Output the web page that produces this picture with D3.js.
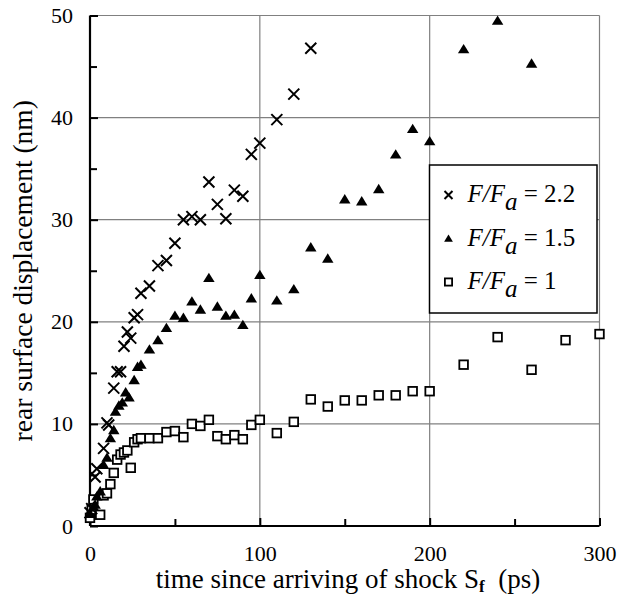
<!DOCTYPE html>
<html>
<head>
<meta charset="utf-8">
<script src="https://cdn.jsdelivr.net/npm/d3@7"></script>
<style>
	body { margin: 0; background: #fff; }
	text { font-family: "Liberation Serif", "Times New Roman", serif; fill: #000; }
</style>
</head>
<body>
<div id="chart"></div>
<script>

///////////////////////////////////////////////////////////////////////////
/////////////////////////////////// Data //////////////////////////////////
///////////////////////////////////////////////////////////////////////////

//F/Fa = 2.2 (crosses): [time ps, displacement nm]
var cross22 = [[0,1.3],[1,1.7],[3,4.8],[4,5.6],[8,7.6],[10,10.1],[11,9.9],[14,13.5],[16,15.1],[18,15.1],
	[20,17.6],[22,19.0],[24,18.4],[26,20.4],[28,20.7],[30,22.8],[35,23.5],[40,25.5],[45,26.0],[50,27.7],
	[55,30.0],[60,30.3],[65,30.0],[70,33.7],[75,31.5],[80,30.1],[85,32.9],[90,32.3],[95,36.4],[100,37.5],
	[110,39.8],[120,42.3],[130,46.8]];

//F/Fa = 1.5 (triangles)
var tri15 = [[0,1.2],[2,1.9],[3,2.1],[4,2.9],[6,3.4],[8,6.0],[10,6.7],[12,8.6],[14,9.4],[15,11.2],[17,11.8],
	[19,12.1],[21,13.1],[23,12.6],[26,14.3],[28,15.6],[30,15.8],[35,17.3],[40,18.2],[45,19.4],[50,20.6],
	[55,20.4],[60,22.0],[65,21.2],[70,24.3],[75,21.5],[80,20.6],[85,20.7],[90,19.7],[95,22.3],[100,24.6],
	[110,22.1],[120,23.2],[130,27.3],[140,26.2],[150,32.0],[160,31.8],[170,33.0],[180,36.4],[190,38.9],
	[200,37.7],[220,46.7],[240,49.5],[260,45.3]];

//F/Fa = 1 (open squares)
var sq1 = [[0,0.8],[1,1.6],[2,2.6],[6,1.1],[8,3.0],[10,3.2],[12,4.1],[14,5.2],[16,6.5],[18,7.0],[20,7.2],
	[22,7.4],[24,5.7],[26,8.2],[28,8.5],[30,8.6],[35,8.6],[40,8.6],[45,9.2],[50,9.3],[55,8.7],[60,10.0],
	[65,9.8],[70,10.4],[75,8.8],[80,8.5],[85,8.9],[90,8.5],[95,9.9],[100,10.4],[110,9.1],[120,10.2],
	[130,12.4],[140,11.7],[150,12.3],[160,12.3],[170,12.8],[180,12.8],[190,13.2],[200,13.2],[220,15.8],
	[240,18.5],[260,15.3],[280,18.2],[300,18.8]];

var xMajor = [0, 100, 200, 300],
	xMinor = [50, 150, 250],
	yMajor = [0, 10, 20, 30, 40, 50],
	yMinor = [5, 15, 25, 35, 45];

var legendRatios = ["2.2", "1.5", "1"];

///////////////////////////////////////////////////////////////////////////
//////////////////// Set up and initiate svg containers ///////////////////
///////////////////////////////////////////////////////////////////////////

var margin = { top: 15.5, right: 19.5, bottom: 70, left: 90 };
var totalW = 619, totalH = 596;
var width = totalW - margin.left - margin.right,
	height = totalH - margin.top - margin.bottom;

var svg = d3.select("#chart").append("svg")
	.attr("width", totalW)
	.attr("height", totalH);

var g = svg.append("g")
	.attr("transform", "translate(" + margin.left + "," + margin.top + ")");

var x = d3.scaleLinear().domain([0, 300]).range([0, width]);
var y = d3.scaleLinear().domain([0, 50]).range([height, 0]);

var gridColor = "#808080";

///////////////////////////////////////////////////////////////////////////
//////////////////////////// Grid and frame ///////////////////////////////
///////////////////////////////////////////////////////////////////////////

//Vertical gridlines (incl. right border)
g.selectAll(".vgrid")
	.data(xMajor.slice(1))
	.enter().append("line")
	.attr("x1", function(d) { return x(d); })
	.attr("x2", function(d) { return x(d); })
	.attr("y1", 0)
	.attr("y2", height)
	.style("stroke", gridColor)
	.style("stroke-width", 1.2);

//Horizontal gridlines (incl. top border)
g.selectAll(".hgrid")
	.data(yMajor.slice(1))
	.enter().append("line")
	.attr("x1", 0)
	.attr("x2", width)
	.attr("y1", function(d) { return y(d); })
	.attr("y2", function(d) { return y(d); })
	.style("stroke", gridColor)
	.style("stroke-width", 1.2);

///////////////////////////////////////////////////////////////////////////
///////////////////////////////// Axes ////////////////////////////////////
///////////////////////////////////////////////////////////////////////////

//Minor ticks inside, pointing into the plot
var xMinorAxis = d3.axisBottom(x).tickValues(xMinor).tickSize(-7).tickFormat("");
var yMinorAxis = d3.axisLeft(y).tickValues(yMinor).tickSize(-7).tickFormat("");
g.append("g").attr("class", "minor").attr("transform", "translate(0," + height + ")").call(xMinorAxis);
g.append("g").attr("class", "minor").call(yMinorAxis);

//Major axes with labels
var xAxis = d3.axisBottom(x).tickValues(xMajor).tickSize(-8).tickPadding(19).tickFormat(d3.format("d"));
var yAxis = d3.axisLeft(y).tickValues(yMajor).tickSize(-8).tickPadding(17).tickFormat(d3.format("d"));

var xAxisG = g.append("g")
	.attr("transform", "translate(0," + height + ")")
	.call(xAxis);
var yAxisG = g.append("g").call(yAxis);

g.selectAll(".domain").remove();
g.selectAll(".tick line").style("stroke", "#000").style("stroke-width", 2);
xAxisG.selectAll("text").style("font-size", "22px");
yAxisG.selectAll("text").style("font-size", "22px");

//Thick black left and bottom axes
g.append("line").attr("x1", 0).attr("x2", 0).attr("y1", 0).attr("y2", height)
	.style("stroke", "#000").style("stroke-width", 2.2);
g.append("line").attr("x1", 0).attr("x2", width).attr("y1", height).attr("y2", height)
	.style("stroke", "#000").style("stroke-width", 2.2);

//Axis titles
var xTitle = svg.append("text")
	.attr("x", 348)
	.attr("y", 588)
	.style("text-anchor", "middle")
	.style("font-size", "27px");
xTitle.append("tspan").text("time since arriving of shock S");
xTitle.append("tspan").attr("dy", 4).style("font-size", "17px").style("font-weight", "bold").text("f");
xTitle.append("tspan").attr("dy", -4).text("\u00a0 (ps)");

svg.append("text")
	.attr("transform", "translate(32," + (margin.top + height / 2) + ") rotate(-90)")
	.style("text-anchor", "middle")
	.style("font-size", "27.5px")
	.text("rear surface displacement (nm)");

///////////////////////////////////////////////////////////////////////////
//////////////////////////////// Markers //////////////////////////////////
///////////////////////////////////////////////////////////////////////////

function drawCross(sel, s) {
	sel.append("path")
		.attr("d", "M" + (-s) + "," + (-s) + "L" + s + "," + s + "M" + (-s) + "," + s + "L" + s + "," + (-s))
		.style("stroke", "#000")
		.style("stroke-width", 2)
		.style("fill", "none");
}
function drawTriangle(sel, s) {
	sel.append("path")
		.attr("d", "M0," + (-s) + "L" + (s * 1.1) + "," + (s * 0.8) + "L" + (-s * 1.1) + "," + (s * 0.8) + "Z")
		.style("fill", "#000");
}
function drawSquare(sel, s) {
	sel.append("rect")
		.attr("x", -s).attr("y", -s)
		.attr("width", 2 * s).attr("height", 2 * s)
		.style("fill", "#fff")
		.style("stroke", "#000")
		.style("stroke-width", 1.8);
}

var sqG = g.selectAll(".sq")
	.data(sq1)
	.enter().append("g")
	.attr("class", "sq")
	.attr("transform", function(d) { return "translate(" + x(d[0]) + "," + y(d[1]) + ")"; });
drawSquare(sqG, 4.3);

var triG = g.selectAll(".tri")
	.data(tri15)
	.enter().append("g")
	.attr("class", "tri")
	.attr("transform", function(d) { return "translate(" + x(d[0]) + "," + y(d[1]) + ")"; });
drawTriangle(triG, 5.2);

var crossG = g.selectAll(".cross")
	.data(cross22)
	.enter().append("g")
	.attr("class", "cross")
	.attr("transform", function(d) { return "translate(" + x(d[0]) + "," + y(d[1]) + ")"; });
drawCross(crossG, 5.5);

///////////////////////////////////////////////////////////////////////////
//////////////////////////////// Legend ///////////////////////////////////
///////////////////////////////////////////////////////////////////////////

var legend = svg.append("g").attr("transform", "translate(429.5,165)");
legend.append("rect")
	.attr("width", 167.5)
	.attr("height", 148)
	.style("fill", "#fff")
	.style("stroke", "#000")
	.style("stroke-width", 1.5);

var rows = legend.selectAll(".legRow")
	.data(legendRatios)
	.enter().append("g")
	.attr("class", "legRow")
	.attr("transform", function(d, i) { return "translate(0," + (30 + i * 43.5) + ")"; });

rows.each(function(d, i) {
	var r = d3.select(this);
	var m = r.append("g").attr("transform", "translate(19,0)");
	if (i === 0) drawCross(m, 4);
	else if (i === 1) drawTriangle(m, 4);
	else drawSquare(m, 3.6);

	var t = r.append("text")
		.attr("x", 38)
		.attr("y", 7)
		.style("font-size", "25px");
	t.append("tspan").style("font-style", "italic").text("F/F");
	t.append("tspan").attr("dy", 8).style("font-style", "italic").text("a");
	t.append("tspan").attr("dy", -8).text(" = " + d);
});

</script>
</body>
</html>
